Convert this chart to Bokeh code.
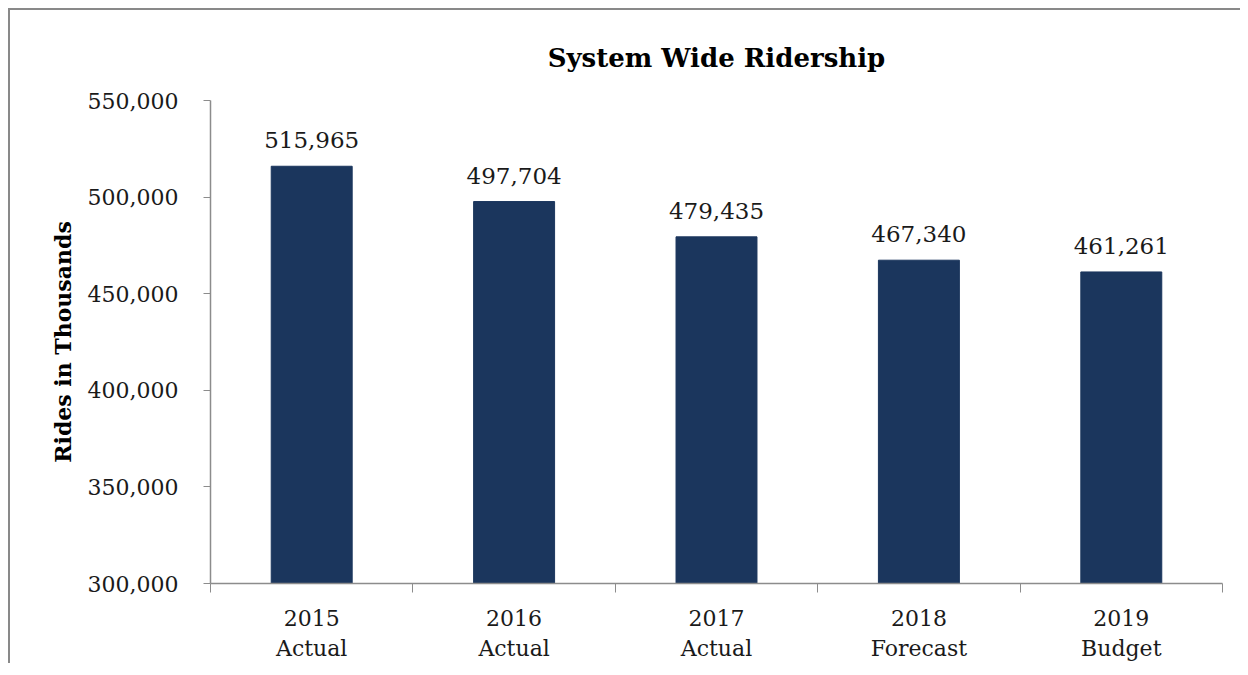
from bokeh.plotting import figure
from bokeh.models import Range1d, FixedTicker, NumeralTickFormatter, ColumnDataSource, LabelSet
from bokeh.core.properties import value
from bokeh.embed import file_html
from bokeh.resources import INLINE

years = ["2015", "2016", "2017", "2018", "2019"]
kinds = ["Actual", "Actual", "Actual", "Forecast", "Budget"]
riders = [515965, 497704, 479435, 467340, 461261]
y_ticks = [300000, 350000, 400000, 450000, 500000, 550000]
title_text = "System Wide Ridership"

FONT = "DejaVu Serif"
AXIS_COLOR = "#8c8c8c"
BAR_COLOR = "#1b365d"

pos = [i + 0.5 for i in range(len(years))]
bounds = [float(i) for i in range(len(years) + 1)]
src = ColumnDataSource(dict(x=pos, top=riders, label=[f"{v:,}" for v in riders]))

p = figure(frame_width=1012, frame_height=483,
           x_range=Range1d(0, len(years)), y_range=Range1d(y_ticks[0], y_ticks[-1]),
           output_backend="svg", toolbar_location=None,
           min_border_left=200, min_border_right=18, min_border_top=90, min_border_bottom=80,
           styles={"border-top": "2px solid #898989", "border-left": "2px solid #898989",
                   "margin-top": "8px", "margin-left": "8px"})

p.vbar(x="x", top="top", bottom=y_ticks[0], width=0.4, source=src,
       fill_color=BAR_COLOR, line_color=BAR_COLOR)

labels = LabelSet(x="x", y="top", text="label", source=src, text_align="center",
                  text_baseline="bottom", y_offset=18, text_font=value(FONT),
                  text_font_size="23px", text_color="#1a1a1a")
p.add_layout(labels)

p.title.text = title_text
p.title.align = "center"
p.title.text_font = FONT
p.title.text_font_size = "26px"
p.title.text_font_style = "bold"
p.title.text_color = "#000000"
p.title.standoff = 56

p.xgrid.visible = False
p.ygrid.visible = False
p.outline_line_color = None
p.background_fill_color = "white"
p.border_fill_color = "white"

xa = p.xaxis[0]
xa.ticker = FixedTicker(ticks=pos, minor_ticks=bounds)
xa.major_label_overrides = {x: f"{y}\n{k}" for x, y, k in zip(pos, years, kinds)}
xa.major_tick_line_color = None
xa.minor_tick_line_color = AXIS_COLOR
xa.minor_tick_out = 9
xa.minor_tick_in = 0
xa.axis_line_color = AXIS_COLOR
xa.axis_line_width = 1.5
xa.major_label_text_font = FONT
xa.major_label_text_font_size = "22px"
xa.major_label_text_color = "#1a1a1a"
xa.major_label_standoff = 13

ya = p.yaxis[0]
ya.ticker = FixedTicker(ticks=y_ticks)
ya.formatter = NumeralTickFormatter(format="0,0")
ya.major_tick_out = 7
ya.major_tick_in = 0
ya.minor_tick_line_color = None
ya.major_tick_line_color = AXIS_COLOR
ya.axis_line_color = AXIS_COLOR
ya.axis_line_width = 1.5
ya.major_label_text_font = FONT
ya.major_label_text_font_size = "22px"
ya.major_label_text_color = "#1a1a1a"
ya.major_label_standoff = 25
ya.axis_label = "Rides in Thousands"
ya.axis_label_text_font = FONT
ya.axis_label_text_font_size = "22px"
ya.axis_label_text_font_style = "bold"
ya.axis_label_text_color = "#000000"
ya.axis_label_standoff = 9

open("out.html", "w").write(file_html(p, INLINE))
